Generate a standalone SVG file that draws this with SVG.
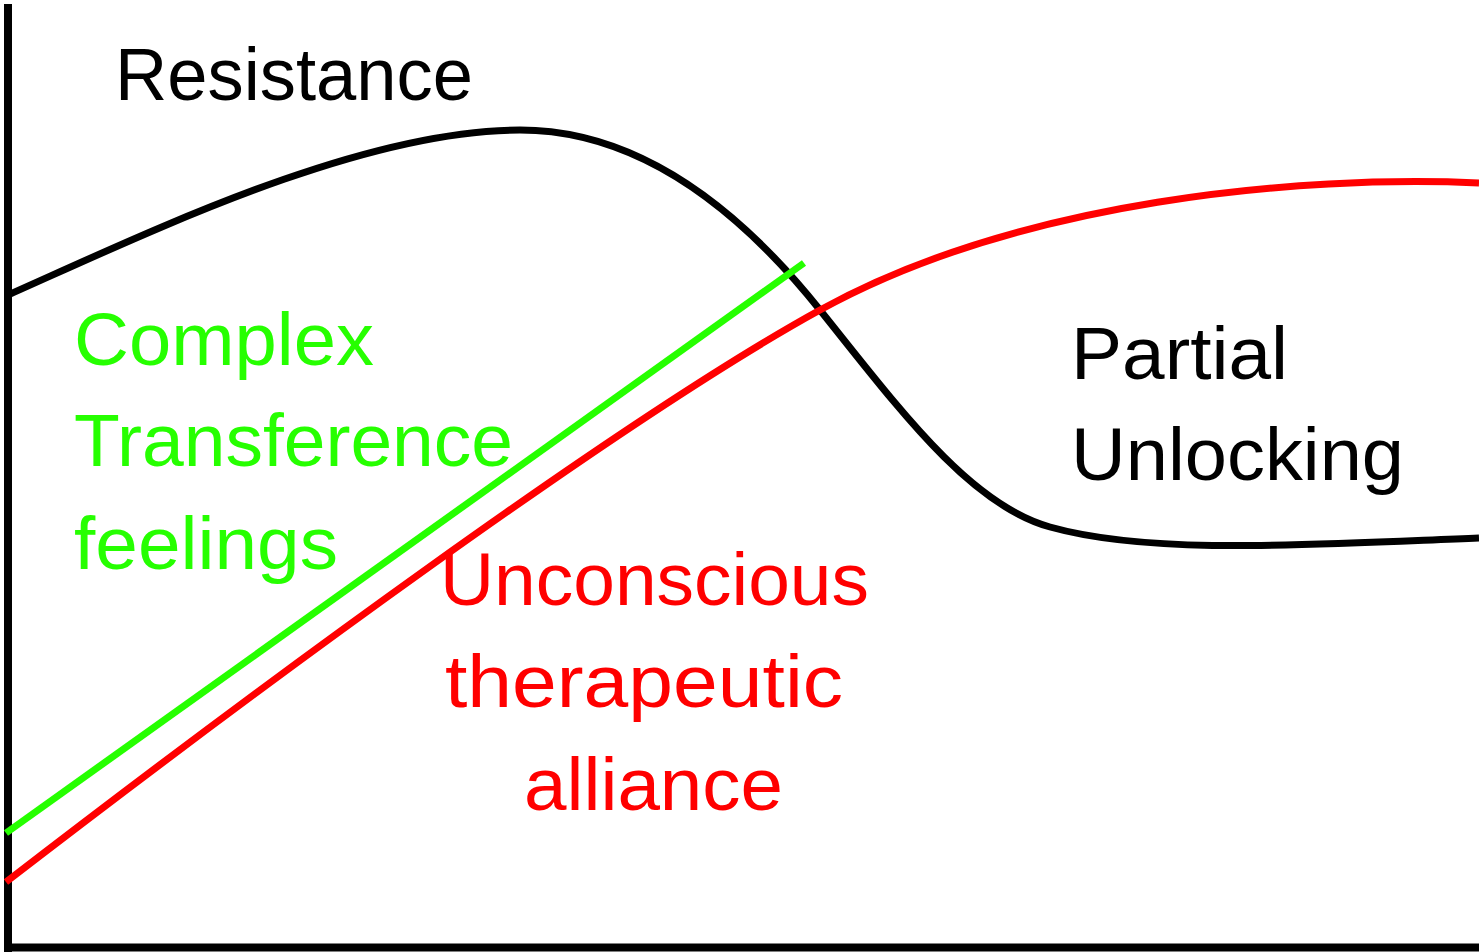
<svg xmlns="http://www.w3.org/2000/svg" width="1479" height="952" viewBox="0 0 1479 952">
<style>
text{font-family:"Liberation Sans",Arial,sans-serif;font-size:74px}
.k{fill:#000}.g{fill:#26ff00}.r{fill:#ff0000}
.axis{stroke:#000;stroke-width:8;fill:none}
.c{fill:none;stroke-width:7}
</style>
<rect width="1479" height="952" fill="#fff"/>
<g id="axes">
<line class="axis" x1="8" y1="4" x2="8" y2="952"/>
<line class="axis" x1="4" y1="947.5" x2="1479" y2="947.5"/>
</g>
<g id="connectors">
<path id="resistance-curve" class="c" stroke="#000" d="M8,295 C150,232 360,130 520,130 C640,130 740,210 820,310 C900,410 970,505 1050,527 C1150,555 1300,545 1479,538"/>
<path id="alliance-curve" class="c" stroke="#ff0000" d="M6,882 C250,694 620,420 820,310 C1020,200 1300,175 1479,183"/>
<line id="transference-line" class="c" stroke="#26ff00" stroke-width="8" x1="6" y1="833" x2="804" y2="263"/>
</g>
<g id="label-resistance"><text class="k" x="115" y="100" textLength="358" lengthAdjust="spacingAndGlyphs">Resistance</text></g>
<g id="label-transference">
<text class="g" x="74" y="365" textLength="300" lengthAdjust="spacingAndGlyphs">Complex</text>
<text class="g" x="74" y="466" textLength="439" lengthAdjust="spacingAndGlyphs">Transference</text>
<text class="g" x="74" y="569" textLength="264" lengthAdjust="spacingAndGlyphs">feelings</text>
</g>
<g id="label-unlocking">
<text class="k" x="1071" y="379" textLength="217" lengthAdjust="spacingAndGlyphs">Partial</text>
<text class="k" x="1071" y="480" textLength="333" lengthAdjust="spacingAndGlyphs">Unlocking</text>
</g>
<g id="label-alliance">
<text class="r" x="440" y="605" textLength="429" lengthAdjust="spacingAndGlyphs">Unconscious</text>
<text class="r" x="445" y="707" textLength="398" lengthAdjust="spacingAndGlyphs">therapeutic</text>
<text class="r" x="524" y="810" textLength="259" lengthAdjust="spacingAndGlyphs">alliance</text>
</g>
</svg>
